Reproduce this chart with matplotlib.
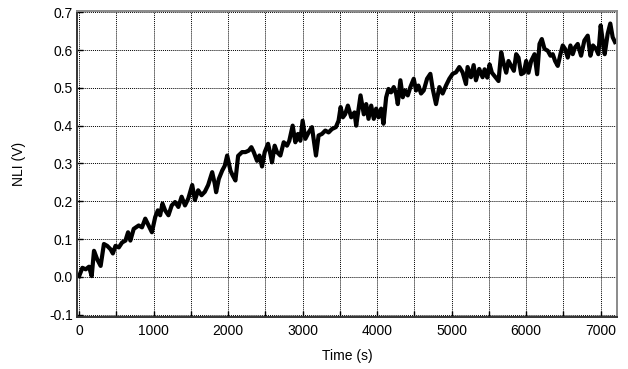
import matplotlib
matplotlib.use("Agg")
import matplotlib.pyplot as plt
from matplotlib.ticker import MultipleLocator, FormatStrFormatter

plt.rcParams['font.family'] = ['Liberation Sans', 'DejaVu Sans']
plt.rcParams['axes.unicode_minus'] = False

# time (s) and NLI (V)
time_s = [0, 44, 89, 133, 169, 200, 244, 289, 333, 377, 422, 453, 488, 533, 577,
          622, 657, 688, 733, 800, 844, 888, 932, 977, 1021, 1057, 1088, 1119, 1154,
          1199, 1243, 1288, 1332, 1376, 1421, 1465, 1518, 1554, 1598, 1643, 1687,
          1732, 1786, 1821, 1839, 1875, 1920, 1955, 1987, 2031, 2062, 2098, 2134,
          2187, 2232, 2277, 2312, 2344, 2388, 2420, 2455, 2491, 2536, 2567, 2589,
          2625, 2656, 2701, 2746, 2790, 2821, 2866, 2902, 2937, 2969, 3000, 3036,
          3080, 3125, 3179, 3214, 3259, 3304, 3348, 3393, 3446, 3482, 3510, 3540,
          3570, 3607, 3652, 3696, 3719, 3777, 3821, 3853, 3884, 3920, 3955, 3987,
          4018, 4054, 4085, 4121, 4152, 4187, 4223, 4254, 4277, 4312, 4344, 4375,
          4411, 4446, 4491, 4522, 4554, 4589, 4625, 4670, 4714, 4746, 4790, 4835,
          4879, 4924, 4969, 5013, 5058, 5103, 5147, 5192, 5214, 5259, 5295, 5326,
          5370, 5415, 5442, 5478, 5509, 5540, 5576, 5629, 5665, 5701, 5732, 5763,
          5799, 5835, 5866, 5897, 5933, 5969, 6000, 6031, 6067, 6112, 6147, 6179,
          6210, 6246, 6290, 6326, 6357, 6388, 6424, 6460, 6491, 6522, 6558, 6594,
          6625, 6656, 6692, 6737, 6781, 6826, 6862, 6897, 6938, 6969, 7000, 7027,
          7054, 7094, 7129, 7161, 7192]
nli_v = [0.002, 0.024, 0.020, 0.027, 0.002, 0.069, 0.046, 0.029, 0.087, 0.082,
         0.073, 0.062, 0.082, 0.078, 0.091, 0.096, 0.118, 0.096, 0.127, 0.136,
         0.131, 0.154, 0.136, 0.118, 0.158, 0.176, 0.163, 0.194, 0.176, 0.163,
         0.189, 0.198, 0.185, 0.212, 0.189, 0.207, 0.243, 0.203, 0.229, 0.216,
         0.225, 0.243, 0.277, 0.246, 0.224, 0.259, 0.281, 0.294, 0.321, 0.281,
         0.268, 0.255, 0.320, 0.330, 0.330, 0.334, 0.343, 0.330, 0.307, 0.321,
         0.292, 0.330, 0.352, 0.325, 0.303, 0.347, 0.330, 0.321, 0.356, 0.347,
         0.360, 0.400, 0.356, 0.378, 0.360, 0.413, 0.365, 0.382, 0.396, 0.321,
         0.374, 0.378, 0.387, 0.382, 0.391, 0.396, 0.413, 0.449, 0.422, 0.430,
         0.453, 0.422, 0.435, 0.400, 0.480, 0.430, 0.457, 0.418, 0.453, 0.418,
         0.445, 0.422, 0.445, 0.405, 0.475, 0.497, 0.488, 0.502, 0.485, 0.457,
         0.520, 0.475, 0.493, 0.480, 0.502, 0.524, 0.493, 0.506, 0.485, 0.493,
         0.524, 0.537, 0.497, 0.457, 0.502, 0.485, 0.506, 0.524, 0.537, 0.541,
         0.555, 0.541, 0.510, 0.555, 0.528, 0.560, 0.520, 0.550, 0.528, 0.549,
         0.527, 0.562, 0.540, 0.531, 0.518, 0.594, 0.562, 0.540, 0.571, 0.558,
         0.545, 0.589, 0.580, 0.536, 0.540, 0.571, 0.540, 0.571, 0.589, 0.536,
         0.616, 0.629, 0.603, 0.598, 0.585, 0.589, 0.571, 0.558, 0.589, 0.612,
         0.603, 0.580, 0.612, 0.589, 0.607, 0.616, 0.585, 0.625, 0.638, 0.585,
         0.612, 0.603, 0.589, 0.665, 0.625, 0.589, 0.643, 0.670, 0.634, 0.621]

fig = plt.figure(figsize=(6.28, 3.69), dpi=100)
ax = fig.add_axes([0.123, 0.141, 0.859, 0.829])

ax.plot(time_s, nli_v, color='black', linewidth=3.0, solid_joinstyle='round')

ax.set_xlim(-25, 7215)
ax.set_ylim(-0.106, 0.703)
ax.xaxis.set_major_locator(MultipleLocator(1000))
ax.xaxis.set_minor_locator(MultipleLocator(500))
ax.yaxis.set_major_locator(MultipleLocator(0.1))
ax.yaxis.set_major_formatter(FormatStrFormatter('%.1f'))

ax.grid(which='both', axis='x', color='black', linestyle=(0, (1, 1)), linewidth=0.7)
ax.grid(which='major', axis='y', color='black', linestyle=(0, (1, 1)), linewidth=0.7)

ax.tick_params(which='both', direction='in', labelsize=10, color='black')
ax.tick_params(which='major', length=4, width=1)
ax.tick_params(which='minor', length=4, width=1)
ax.tick_params(axis='x', pad=5)
ax.tick_params(axis='y', pad=3)

for side in ['left', 'bottom']:
    ax.spines[side].set_color('#333333')
    ax.spines[side].set_linewidth(1.4)
for side in ['top', 'right']:
    ax.spines[side].set_color('#8a8a8a')
    ax.spines[side].set_linewidth(1.4)

ax.set_xlabel('Time (s)', fontsize=10, labelpad=8)
ax.set_ylabel('NLI (V)', fontsize=10, labelpad=17)

fig.savefig('out.png', dpi=100)
